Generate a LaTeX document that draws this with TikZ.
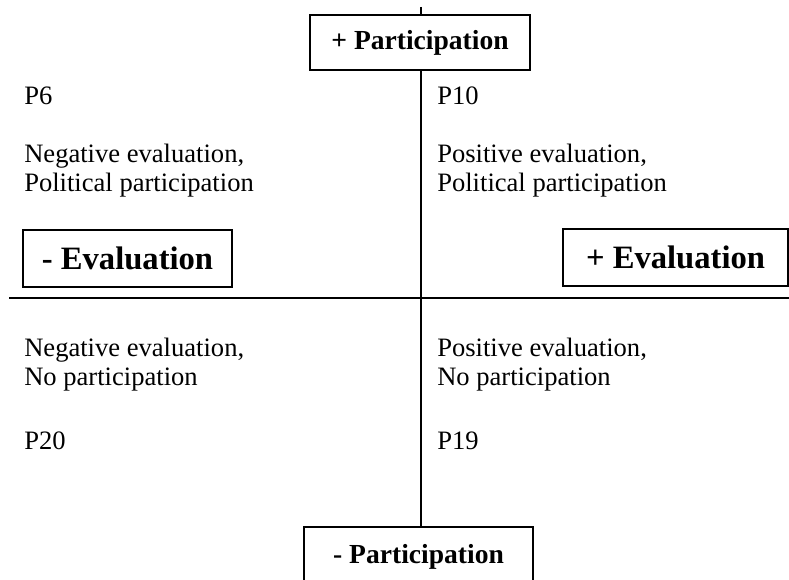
\documentclass[tikz,border=0pt]{standalone}
\usepackage{fontspec}
\setmainfont{Liberation Serif}
\usetikzlibrary{positioning,calc}

\tikzset{
    axisbox/.style={draw, line width=1.1pt, fill=white, inner sep=0pt, font=\bfseries\fontsize{19.6}{22}\selectfont},
    evalbox/.style={draw, line width=1.1pt, fill=white, inner sep=0pt, font=\bfseries\fontsize{23.2}{26}\selectfont},
    quadtext/.style={anchor=base west, inner sep=0pt, align=left, font=\fontsize{18.9}{20.6}\selectfont}
}

\begin{document}
\begin{tikzpicture}
    \useasboundingbox (0,0) rectangle (19.725,14.5);

    % Axes end points
    \coordinate (topend) at (10.525,14.325);
    \coordinate (westend) at (0.225,7.05);
    \coordinate (eastend) at (19.725,7.05);

    % Participation boxes
    \node[axisbox, minimum width=5.5cm, minimum height=1.375cm] (partplus) at (10.5,13.4375) {+ Participation};
    \node[axisbox, minimum width=5.725cm, minimum height=1.5cm] (partminus) at (10.4625,0.575) {- Participation};

    % Axes
    \draw[line width=1.5pt] (topend) -- (topend |- partplus.north);
    \draw[line width=1.5pt] (topend |- partplus.south) -- (topend |- partminus.north);
    \draw[line width=1.5pt] (westend) -- (eastend);

    % Evaluation boxes
    \node[evalbox, minimum width=5.225cm, minimum height=1.425cm] (evalminus) at (3.1875,8.0375) {- Evaluation};
    \node[evalbox, minimum width=5.625cm, minimum height=1.425cm] (evalplus) at (16.8875,8.0625) {+ Evaluation};

    % Upper quadrants
    \node[quadtext] (psix) at (0.6,11.875) {P6};
    \node[quadtext] (negpol) at (0.6,9.72) {Negative evaluation,\\Political participation};
    \node[quadtext] (pten) at (10.925,11.875) {P10};
    \node[quadtext] (pospol) at (10.925,9.72) {Positive evaluation,\\Political participation};

    % Lower quadrants
    \node[quadtext] (negno) at (0.6,4.86) {Negative evaluation,\\No participation};
    \node[quadtext] (ptwenty) at (0.6,3.25) {P20};
    \node[quadtext] (posno) at (10.925,4.86) {Positive evaluation,\\No participation};
    \node[quadtext] (pnineteen) at (10.925,3.25) {P19};
\end{tikzpicture}
\end{document}
